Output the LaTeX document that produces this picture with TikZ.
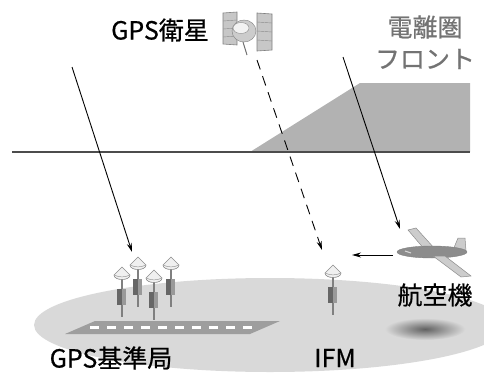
\documentclass[tikz,border=0pt]{standalone}
\usepackage{fontspec}
\setmainfont{Noto Sans CJK JP}
\newfontfamily\labelfont{Noto Sans CJK JP}[FakeBold=0.6]
\usetikzlibrary{positioning,arrows.meta}

\begin{document}
\begin{tikzpicture}[x=1pt, y=1pt,
					label/.style={rectangle, inner sep=0pt, font=\labelfont\fontsize{25}{25}\selectfont},
					front/.style={label, text=black!55},
					ray/.style={line width=0.9pt, -{Stealth[length=9pt, width=5pt]}},
					panel/.style={draw=black!50, fill=black!22, line width=0.6pt},
					wing/.style={draw=black!45, fill=black!20, line width=0.5pt},
					antenna/.pic={
						\fill[black!50] (-1,-10) rectangle (1,-50);
						\filldraw[draw=black!45, fill=black!6, line width=0.6pt] (-8,-8) -- (0,0) -- (8,-8) .. controls (8,-14) and (-8,-14) .. cycle;
						\draw[black!40, line width=0.5pt] (-8,-8) .. controls (-3,-10.5) and (3,-10.5) .. (8,-8);
						\fill[black!60] (-5,-22) rectangle (0,-38);
						\fill[black!40] (0,-22) rectangle (4,-38);
					}
				]
				\useasboundingbox (0,0) rectangle (484,376);
				\begin{scope}
				\clip (0,0) rectangle (484,376);
				% ground and runway
				\fill[black!15] (270,51) ellipse (236 and 47);
				\fill[black!38] (65,42) -- (95,55) -- (280,55) -- (250,42) -- cycle;
				\draw[white, line width=3pt, dash pattern=on 9pt off 8pt] (90,48.5) -- (258,48.5);
				% shadow of the aircraft
				\shade[inner color=black!62, outer color=black!15] (425,47) ellipse (40 and 11);
				\end{scope}
				% ionosphere front
				\fill[black!30] (250,224) -- (360,293) -- (470,293) -- (470,224) -- cycle;
				\draw[black!70, line width=2.5pt] (12,224) -- (470,224);
				% satellite
				\filldraw[panel] (223,363) -- (237,364) -- (237,331) -- (223,332) -- cycle;
				\draw[black!45] (223,355) -- (237,356) (223,347) -- (237,348) (223,339) -- (237,340);
				\filldraw[panel] (257,363) -- (272,362) -- (272,326) -- (257,325) -- cycle;
				\draw[black!45] (257,354) -- (272,353) (257,345) -- (272,344) (257,336) -- (272,335);
				\draw[black!55, line width=1pt] (243,334) -- (247,321);
				\filldraw[draw=black!50, fill=black!20] (244,345) ellipse (12 and 11);
				\filldraw[draw=black!45, fill=black!5] (241,348) ellipse (8 and 5.5);
				% aircraft
				\filldraw[wing] (408,146) -- (416,148) -- (435,127) -- (425,126) -- cycle;
				\filldraw[wing] (453,126) -- (458,138) -- (465,138) -- (466,125) -- cycle;
				\filldraw[draw=black!50, fill=black!45] (432,124) ellipse (35 and 6);
				\draw[black!15, line width=1pt] (405,125) -- (411,123);
				\filldraw[wing] (433,120) -- (445,120) -- (471,100) -- (461,99) -- cycle;
				% receivers
				\pic (ref1) at (122,109) {antenna};
				\pic (ref2) at (138,119) {antenna};
				\pic (ref3) at (154,106) {antenna};
				\pic (ref4) at (171,119) {antenna};
				\pic (ifm) at (333,111) {antenna};
				% labels
				\node[label] (sat) at (160,346) {GPS衛星};
				\node[front] (ionoa) at (425,349) {電離圏};
				\node[front] (ionob) [below=10pt of ionoa] {フロント};
				\node[label] (refname) at (111,18) {GPS基準局};
				\node[label] (ifmname) at (335,18) {IFM};
				\node[label] (plane) at (435,81) {航空機};
				% signal paths
				\coordinate (gpsin) at (72,309);
				\coordinate (gpsout) at (132,124);
				\coordinate (ifmin) at (257,316);
				\coordinate (ifmout) at (322,126);
				\coordinate (planein) at (343,319);
				\coordinate (planeout) at (400,147);
				\coordinate (nose) at (393,121);
				\coordinate (link) at (352,121);
				\draw[ray] (gpsin) -- (gpsout);
				\draw[ray, dash pattern=on 10pt off 7pt] (ifmin) -- (ifmout);
				\draw[ray] (planein) -- (planeout);
				\draw[ray] (nose) -- (link);
				\end{tikzpicture}
\end{document}
